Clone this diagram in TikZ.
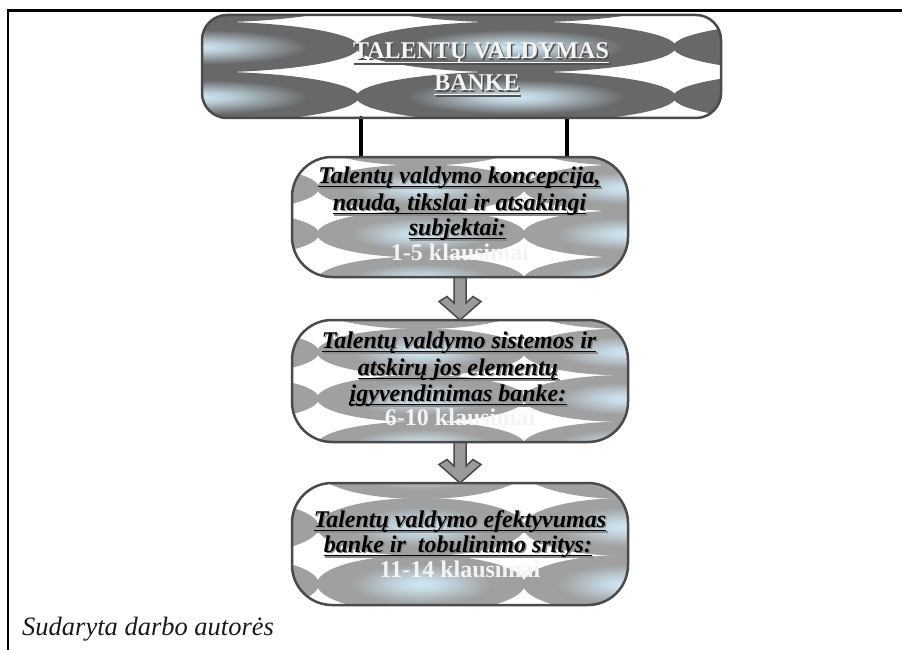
\documentclass[tikz,border=0pt]{standalone}
\usepackage{fontspec}
\setmainfont{Liberation Serif}
\usetikzlibrary{calc}

\definecolor{boxedge}{HTML}{4A4A4A}
\definecolor{texdark}{HTML}{686868}
\definecolor{texlight}{HTML}{A0A0A0}
\definecolor{texglow}{HTML}{CFE7F4}
\definecolor{arrowgray}{HTML}{9A9A9A}
\definecolor{shadowgray}{HTML}{8C8C8C}
\definecolor{shadowdark}{HTML}{505050}
\definecolor{paletext}{HTML}{F4F4F4}

% texture blobs: light blue glow fading into gray
\pgfdeclareradialshading{glowdark}{\pgfpoint{0bp}{0bp}}{%
  color(0bp)=(texglow); color(5bp)=(texglow!80!texdark);
  color(17bp)=(texdark); color(50bp)=(texdark)}
\pgfdeclareradialshading{glowlight}{\pgfpoint{0bp}{0bp}}{%
  color(0bp)=(texglow); color(5bp)=(texglow!80!texlight);
  color(17bp)=(texlight); color(50bp)=(texlight)}

\tikzset{
  panel/.style={rectangle, inner sep=0pt, outer sep=0pt, fill=white},
  panelline/.style={draw=boxedge, line width=2.5pt},
  linkline/.style={draw=black, line width=4pt, line cap=round},
  blockarrow/.style={fill=arrowgray, draw=boxedge, line width=1.5pt, line join=miter},
  headtext/.style={anchor=base, inner sep=0pt, font=\fontsize{24}{24}\selectfont\bfseries},
  itemtext/.style={anchor=base, inner sep=0pt, font=\fontsize{24}{24}\selectfont\bfseries\itshape},
  counttext/.style={anchor=base, inner sep=0pt, text=paletext, font=\fontsize{24}{24}\selectfont\bfseries},
}

% underlined text line with a drop shadow
\newcommand\shadowline[6]{%
  \node[#2, text=#5] (#1-s) at ($#3+(1.5,1.5)$) {#6};
  \draw[#5, line width=1.5pt] ($(#1-s.base west)+(0,3.5)$) -- ($(#1-s.base east)+(0,3.5)$);
  \node[#2, text=#4] (#1) at #3 {#6};
  \draw[#4, line width=1.5pt] ($(#1.base west)+(0,3.5)$) -- ($(#1.base east)+(0,3.5)$);
}

\begin{document}
\begin{tikzpicture}[x=1pt, y=-1pt]
\useasboundingbox (0,0) rectangle (902,650);

% table cell border
\coordinate (frameTL) at (8,10.5);
\coordinate (frameTR) at (902,10.5);
\coordinate (frameBL) at (8,650);
\draw[line width=2.5pt] (frameTR) -- (frameTL) -- (frameBL);

% boxes (white ground)
\node[panel, minimum width=519pt, minimum height=103pt] (b1) at (461.5,66.5) {};
\node[panel, minimum width=336pt, minimum height=120pt] (b2) at (460,217) {};
\node[panel, minimum width=336pt, minimum height=122pt] (b3) at (460,381) {};
\node[panel, minimum width=336pt, minimum height=122pt] (b4) at (460,544) {};

% connectors
\coordinate (linkL) at (361,0);
\coordinate (linkR) at (567,0);
\draw[linkline] (linkL |- b1.south) -- (linkL |- b2.north);
\draw[linkline] (linkR |- b1.south) -- (linkR |- b2.north);

\draw[blockarrow] (b3.north) -- ++(-21,-18.5) -- ++(8,-5) -- ++(7,6.5)
  -- ($(b2.south)+(-6,0)$) -- ($(b2.south)+(6,0)$) -- ($(b3.north)+(6,-17)$)
  -- ++(7,-6.5) -- ++(8,5) -- cycle;
\draw[blockarrow] (b4.north) -- ++(-21,-18.5) -- ++(8,-5) -- ++(7,6.5)
  -- ($(b3.south)+(-6,0)$) -- ($(b3.south)+(6,0)$) -- ($(b4.north)+(6,-17)$)
  -- ++(7,-6.5) -- ++(8,5) -- cycle;

% textures
\begin{scope}
  \clip[rounded corners=25pt] (b1.north west) rectangle (b1.south east);
  \foreach \cx in {-118,199,516,833}
    \foreach \cy in {-3,47,97,147}
      \shade[shading=glowdark] (\cx,\cy) ellipse [x radius=160, y radius=25.5];
\end{scope}
\begin{scope}
  \clip[rounded corners=40pt] (b2.north west) rectangle (b2.south east);
  \foreach \cx in {215,421,627}
    \foreach \cy in {142,188,234,280}
      \shade[shading=glowlight] (\cx,\cy) ellipse [x radius=104, y radius=23.5];
\end{scope}
\begin{scope}
  \clip[rounded corners=40pt] (b3.north west) rectangle (b3.south east);
  \foreach \cx in {215,421,627}
    \foreach \cy in {305.5,352,398.5,445}
      \shade[shading=glowlight] (\cx,\cy) ellipse [x radius=104, y radius=23.5];
\end{scope}
\begin{scope}
  \clip[rounded corners=40pt] (b4.north west) rectangle (b4.south east);
  \foreach \cx in {215,421,627}
    \foreach \cy in {470,527,584}
      \shade[shading=glowlight] (\cx,\cy) ellipse [x radius=104, y radius=29];
\end{scope}

% borders
\draw[panelline, rounded corners=25pt] (b1.north west) rectangle (b1.south east);
\draw[panelline, rounded corners=40pt] (b2.north west) rectangle (b2.south east);
\draw[panelline, rounded corners=40pt] (b3.north west) rectangle (b3.south east);
\draw[panelline, rounded corners=40pt] (b4.north west) rectangle (b4.south east);

% texts
\shadowline{t1a}{headtext}{(481,59)}{paletext}{shadowdark}{TALENTŲ VALDYMAS}
\shadowline{t1b}{headtext}{(477,91)}{paletext}{shadowdark}{BANKE}

\shadowline{t2a}{itemtext}{(459.5,183)}{black}{shadowgray}{Talentų valdymo koncepcija,}
\shadowline{t2b}{itemtext}{(459.5,210)}{black}{shadowgray}{nauda, tikslai ir atsakingi}
\shadowline{t2c}{itemtext}{(457.5,235)}{black}{shadowgray}{subjektai:}
\node[counttext] (n2) at (460,260) {1-5 klausimai};

\shadowline{t3a}{itemtext}{(459,348)}{black}{shadowgray}{Talentų valdymo sistemos ir}
\shadowline{t3b}{itemtext}{(458,375)}{black}{shadowgray}{atskirų jos elementų}
\shadowline{t3c}{itemtext}{(458,401)}{black}{shadowgray}{įgyvendinimas banke:}
\node[counttext] (n3) at (460,425) {6-10 klausimai};

\shadowline{t4a}{itemtext}{(460,527)}{black}{shadowgray}{Talentų valdymo efektyvumas}
\shadowline{t4b}{itemtext}{(458,552)}{black}{shadowgray}{banke ir~ tobulinimo sritys:}
\node[counttext] (n4) at (460,577) {11-14 klausimai};

% source note
\node[anchor=base west, inner sep=0pt, font=\fontsize{26.5}{26.5}\selectfont\itshape, text=black!90] (src) at (22,635) {Sudaryta darbo autorės};
\end{tikzpicture}
\end{document}
